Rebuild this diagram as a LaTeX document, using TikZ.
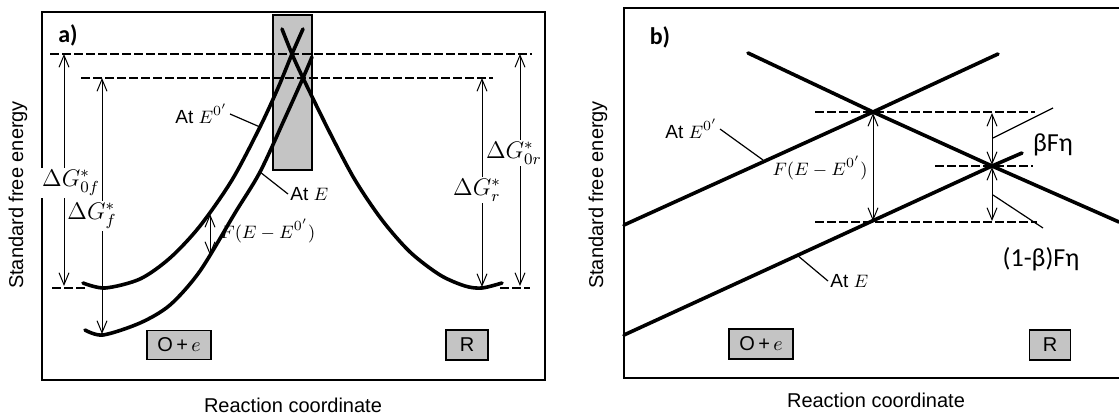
\documentclass[tikz,border=0pt]{standalone}
\usepackage{fontspec}
\setsansfont{Liberation Sans}
\newfontfamily\calib{Carlito}
\usetikzlibrary{arrows.meta, positioning, calc}
\definecolor{boxGray}{RGB}{196,196,196}

\begin{document}
\begin{tikzpicture}[x=0.5pt, y=-0.5pt,
    ARR/.style={{Straight Barb[length=6pt,width=5pt]}-{Straight Barb[length=6pt,width=5pt]}, line width=0.5pt},
    CURVE/.style={line width=1.8pt, line cap=round},
    GUIDE/.style={dash pattern=on 4.5pt off 1.5pt, line width=0.75pt},
    LEAD/.style={line width=0.6pt},
    FRAME/.style={line width=0.9pt},
    BOX/.style={draw, fill=boxGray, line width=0.6pt, inner sep=0pt, font=\fontsize{10}{12}\selectfont\sffamily},
    AX/.style={font=\fontsize{10}{12}\selectfont\sffamily},
    TXT/.style={font=\fontsize{9.5}{11}\selectfont\sffamily, inner sep=1pt},
    LBL/.style={fill=white, inner sep=1pt, font=\fontsize{12}{14}\selectfont},
    GRK/.style={font=\fontsize{13}{15}\selectfont\calib, inner sep=1pt},
    TAG/.style={font=\fontsize{12}{14}\selectfont\calib\bfseries}]
    \useasboundingbox (0,0) rectangle (1119,417);

    % ---- panel a ----
    \draw[FRAME] (42,12) rectangle (545,380);
    \node[TAG] (tagA) at (68,35) {a)};
    \node[AX, rotate=90] (yA) at (18,195) {Standard free energy};
    \node[AX] (xA) at (293,405) {Reaction coordinate};
    \draw[fill=boxGray, line width=0.6pt] (273,15) rectangle (312,170);
    \draw[GUIDE] (50,54) -- (532,54);
    \draw[GUIDE] (81,78) -- (493,78);
    \draw[GUIDE] (52,288) -- (86,288);
    \draw[GUIDE] (500,288) -- (530,288);
    % curves
    \draw[CURVE] plot[smooth] coordinates {(83,283) (105,288) (140,279) (170,258) (200,226) (232,180) (260,127) (278,88) (292,54) (303,29)};
    \draw[CURVE] plot[smooth] coordinates {(85,330) (103,335) (140,323) (170,305) (200,271) (235,213) (260,172) (285,118) (303,78) (312,57)};
    \draw[CURVE] plot[smooth] coordinates {(282,29) (292,54) (303,78) (330,133) (355,180) (382,220) (410,252) (440,275) (465,286) (482,288) (502,283)};
    % energy arrows
    \coordinate (g0fT) at (64,54);   \coordinate (g0fB) at (64,286);
    \coordinate (gfT)  at (102,78);  \coordinate (gfB)  at (102,334);
    \coordinate (grT)  at (482,78);  \coordinate (grB)  at (482,287);
    \coordinate (g0rT) at (520,54);  \coordinate (g0rB) at (520,286);
    \coordinate (fAT)  at (210,214); \coordinate (fAB)  at (210,255);
    \draw[ARR] (g0fT) -- (g0fB);
    \draw[ARR] (gfT) -- (gfB);
    \draw[ARR] (grT) -- (grB);
    \draw[ARR] (g0rT) -- (g0rB);
    \draw[ARR] (fAT) -- (fAB);
    \node[LBL] (l0f) at (71,183) {$\Delta G^{*}_{0f}$};
    \node[LBL] (lf)  at (92,216) {$\Delta G^{*}_{f}$};
    \node[LBL] (lr)  at (477,190) {$\Delta G^{*}_{r}$};
    \node[LBL] (l0r) at (514,153) {$\Delta G^{*}_{0r}$};
    \node[TXT, anchor=west] (fA) at (218,231) {$F(E-E^{0'})$};
    % curve labels
    \node[TXT, anchor=east] (tE0a) at (230,114) {At $E^{0'}$};
    \coordinate (cE0a) at (260,127);
    \draw[LEAD] (tE0a.east) -- (cE0a);
    \node[TXT, anchor=west] (tEa) at (288,194) {At $E$};
    \coordinate (cEa) at (260,172);
    \draw[LEAD] (cEa) -- (tEa.west);
    \node[BOX, minimum width=32pt, minimum height=14.5pt] (oxA) at (179,345) {O\,+\,$e$};
    \node[BOX, minimum width=21pt, minimum height=15pt] (redA) at (467,345) {R};

    % ---- panel b ----
    \draw[FRAME] (1119,8) -- (624,8) -- (624,378) -- (1119,378);
    \node[TAG] (tagB) at (660,37) {b)};
    \node[AX, rotate=90] (yB) at (598,195) {Standard free energy};
    \node[AX] (xB) at (876,400) {Reaction coordinate};
    \draw[GUIDE] (815,112) -- (1035,112);
    \draw[GUIDE] (935,166) -- (1033,166);
    \draw[GUIDE] (815,222) -- (1037,222);
    % lines
    \coordinate (bX0) at (873,112);
    \coordinate (bX1) at (992,166);
    \draw[CURVE] (624,225) -- (bX0) -- (998,54);
    \draw[CURVE] (748,53) -- (bX0) -- (bX1) -- (1119,222);
    \draw[CURVE] (624,335) -- (bX1) -- (1022,153);
    % shift arrows
    \coordinate (fBT) at (873,113); \coordinate (fBB) at (873,221);
    \coordinate (bT)  at (992,113); \coordinate (bM1) at (992,165);
    \coordinate (bM2) at (992,167); \coordinate (bB)  at (992,221);
    \draw[ARR] (fBT) -- (fBB);
    \draw[ARR] (bT) -- (bM1);
    \draw[ARR] (bM2) -- (bB);
    \node[TXT, anchor=east] (fB) at (870,168) {$F(E-E^{0'})$};
    \coordinate (cBs) at (993,138); \coordinate (cBe) at (1053,108);
    \draw[LEAD] (cBs) -- (cBe);
    \node[GRK] (beta) at (1053,145) {βFη};
    \coordinate (cAs) at (993,195); \coordinate (cAe) at (1043,228);
    \draw[LEAD] (cAs) -- (cAe);
    \node[GRK] (alpha) at (1041,259) {(1-β)Fη};
    % line labels
    \node[TXT, anchor=east] (tE0b) at (720,129) {At $E^{0'}$};
    \coordinate (cE0b) at (763,160);
    \draw[LEAD] (tE0b.east) -- (cE0b);
    \node[TXT, anchor=west] (tEb) at (828,281) {At $E$};
    \coordinate (cEb) at (797,255);
    \draw[LEAD] (cEb) -- (tEb.west);
    \node[BOX, minimum width=32pt, minimum height=15pt] (oxB) at (761,344) {O\,+\,$e$};
    \node[BOX, minimum width=20.5pt, minimum height=15pt] (redB) at (1050,345) {R};
\end{tikzpicture}
\end{document}
